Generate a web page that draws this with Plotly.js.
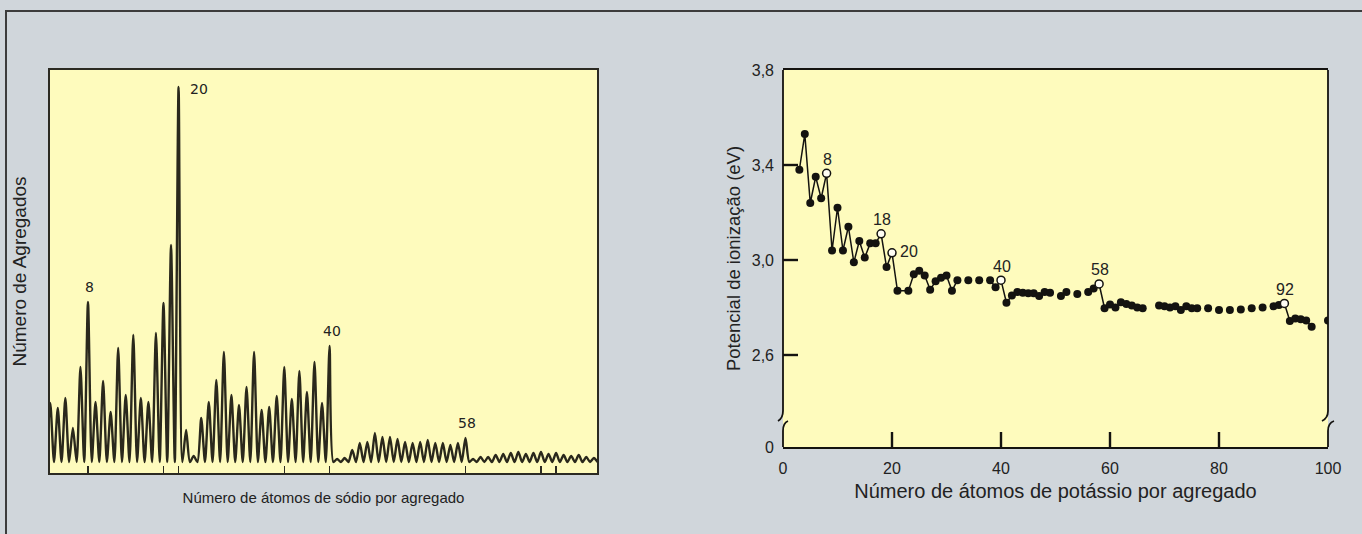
<!DOCTYPE html>
<html>
<head>
<meta charset="utf-8">
<script src="https://cdn.plot.ly/plotly-3.0.1.min.js"></script>
<style>
  html, body { margin: 0; padding: 0; background: #d0d6db; overflow: hidden; }
  #frame { position: absolute; left: 5px; top: 10px; width: 1357px; height: 524px;
           border-top: 2px solid #3c3c3c; border-left: 2px solid #3c3c3c; }
  #chart { position: absolute; left: 0; top: 0; width: 1362px; height: 534px; }
</style>
</head>
<body>
<div id="frame"></div>
<div id="chart"></div>
<script>
// Mass spectrum of sodium clusters: peak height for each cluster size
const naSizes = [3, 4, 5, 6, 7, 8, 9, 10, 11, 12, 13, 14, 15, 16, 17, 18, 19, 20, 21, 22,
                 23, 24, 25, 26, 27, 28, 29, 30, 31, 32, 33, 34, 35, 36, 37, 38, 39, 40, 41, 42,
                 43, 44, 45, 46, 47, 48, 49, 50, 51, 52, 53, 54, 55, 56, 57, 58, 59, 60, 61, 62,
                 63, 64, 65, 66, 67, 68, 69, 70, 71, 72, 73, 74, 75];
const naCounts = [59, 54, 64, 34, 95, 160, 60, 81, 50, 114, 67, 127, 64, 60, 129, 159, 217, 375, 32, 6,
                  44, 60, 82, 110, 67, 57, 75, 110, 52, 55, 66, 95, 63, 91, 70, 100, 59, 116, 3, 4,
                  12, 19, 20, 29, 25, 25, 23, 20, 19, 20, 22, 19, 19, 17, 19, 24, 3, 5, 5, 7,
                  8, 9, 10, 8, 9, 10, 8, 9, 7, 6, 7, 5, 4];
const naMagic = [8, 20, 40, 58];
const naTickSizes = [8, 18, 20, 34, 40, 58, 68, 70];

// Ionization potential of potassium clusters (eV)
const kSizes = [3, 4, 5, 6, 7, 8, 9, 10, 11, 12, 13, 14, 15, 16, 17, 18, 19, 20, 21,
                23, 24, 25, 26, 27, 28, 29, 30, 31, 32, 34, 36,
                38, 39, 40, 41, 42, 43, 44, 45, 46, 47, 48, 49, 51, 52, 54,
                56, 57, 58, 59, 60, 61, 62, 63, 64, 65, 66,
                69, 70, 71, 72, 73, 74, 75, 76, 78, 80, 82, 84, 86, 88,
                90, 91, 92, 93, 94, 95, 96, 97, 100];
const kPotential = [3.38, 3.53, 3.24, 3.35, 3.26, 3.365, 3.04, 3.22, 3.04, 3.14, 2.99, 3.08, 3.01, 3.07, 3.07, 3.11, 2.97, 3.03, 2.87,
                    2.87, 2.94, 2.955, 2.935, 2.875, 2.91, 2.925, 2.935, 2.87, 2.915, 2.915, 2.915,
                    2.915, 2.885, 2.915, 2.82, 2.85, 2.865, 2.862, 2.86, 2.86, 2.848, 2.865, 2.862, 2.848, 2.865, 2.857,
                    2.865, 2.88, 2.899, 2.797, 2.813, 2.80, 2.822, 2.815, 2.808, 2.80, 2.797,
                    2.808, 2.805, 2.80, 2.805, 2.789, 2.805, 2.797, 2.797, 2.797, 2.789, 2.789, 2.792, 2.797, 2.80,
                    2.805, 2.81, 2.817, 2.743, 2.754, 2.75, 2.745, 2.719, 2.745];
const kMagic = [8, 18, 20, 40, 58, 92];
const kTickVals = [0, 20, 40, 60, 80, 100];
const ipTickVals = [2.6, 3.0, 3.4, 3.8];
const ipTickText = ['2,6', '3,0', '3,4', '3,8'];

// ---- page geometry (pixels) ----
const W = 1362, H = 534;
const left = { x0: 50, x1: 597, y0: 70, y1: 473 };
const right = { x0: 783, x1: 1328, y0: 70, y1: 447 };
const ipTop = 3.8, ipFloor = 2.2126;       // the broken axis shows "0" at its foot
const kRange = [0, 100];
const naRange = [2.97, 75.42];
const naValleys = 0;
const tickLenPx = 15;
const breakPx = 418;                        // height of the axis break

const ink = '#141310';
const textColor = '#222222';
const paper = '#fefbbd';

// figure fractions (margins are zero, so paper == page)
const fx = px => px / W;
const fy = py => (H - py) / H;

// sodium trace: each size gives one narrow peak rising from the baseline
const spX = [], spY = [];
naSizes.forEach((n, i) => {
  spX.push(n - 0.5); spY.push(naValleys);
  spX.push(n); spY.push(naCounts[i]);
});
spX.push(naSizes[naSizes.length - 1] + 0.5); spY.push(naValleys);

// potassium: lines join neighbouring sizes; wider gaps past n=30 stay open
const lineX = [], lineY = [];
kSizes.forEach((n, i) => {
  if (i > 0) {
    const gap = n - kSizes[i - 1];
    if (gap > 1 && n > 30) { lineX.push(null); lineY.push(null); }
  }
  lineX.push(n); lineY.push(kPotential[i]);
});
const filledX = [], filledY = [], openX = [], openY = [];
kSizes.forEach((n, i) => {
  if (kMagic.includes(n)) { openX.push(n); openY.push(kPotential[i]); }
  else { filledX.push(n); filledY.push(kPotential[i]); }
});

// inward tick marks of the right-hand axes, drawn on the axes' own scales
const xPerPx = (kRange[1] - kRange[0]) / (right.x1 - right.x0);
const yPerPx = (ipTop - ipFloor) / (right.y1 - right.y0);
const tickX = [], tickY = [];
kTickVals.filter(v => v > kRange[0] && v < kRange[1]).forEach(v => {
  tickX.push(v, v, null); tickY.push(ipFloor, ipFloor + tickLenPx * yPerPx, null);
});
ipTickVals.filter(v => v < ipTop).forEach(v => {
  tickX.push(kRange[0], kRange[0] + tickLenPx * xPerPx, null); tickY.push(v, v, null);
});

const traces = [
  { x: spX, y: spY, xaxis: 'x', yaxis: 'y', mode: 'lines', type: 'scatter',
    line: { color: '#2a281c', width: 2.4, shape: 'spline', smoothing: 0.7 }, hoverinfo: 'skip' },
  { x: tickX, y: tickY, xaxis: 'x2', yaxis: 'y2', mode: 'lines', type: 'scatter',
    line: { color: ink, width: 2.4 }, connectgaps: false, hoverinfo: 'skip' },
  { x: lineX, y: lineY, xaxis: 'x2', yaxis: 'y2', mode: 'lines', type: 'scatter',
    line: { color: ink, width: 1.5 }, connectgaps: false, hoverinfo: 'skip' },
  { x: filledX, y: filledY, xaxis: 'x2', yaxis: 'y2', mode: 'markers', type: 'scatter',
    marker: { color: ink, size: 8, line: { width: 0 } } },
  { x: openX, y: openY, xaxis: 'x2', yaxis: 'y2', mode: 'markers', type: 'scatter',
    marker: { color: '#fffef4', size: 8, line: { color: ink, width: 1.5 } } }
];

const P = (px, py) => `${fx(px)},${fy(py)}`;

// vertical axis with a break: straight run, curl out, gap, curl back in
function brokenAxis(axPx, curl) {
  const up = `M ${P(axPx, right.y0)} L ${P(axPx, breakPx - 7)} ` +
             `Q ${P(axPx, breakPx)} ${P(axPx - curl, breakPx + 3)}`;
  const low = `M ${P(axPx + curl, breakPx + 3)} Q ${P(axPx, breakPx + 5)} ${P(axPx, breakPx + 13)} ` +
              `L ${P(axPx, right.y1)}`;
  return [up, low].map(p => ({ type: 'path', xref: 'paper', yref: 'paper', path: p,
                                line: { color: ink, width: 1.8 }, layer: 'above' }));
}

const shapes = [
  { type: 'rect', xref: 'paper', yref: 'paper', x0: fx(left.x0), x1: fx(left.x1),
    y0: fy(left.y1), y1: fy(left.y0), fillcolor: paper, line: { width: 0 }, layer: 'below' },
  { type: 'rect', xref: 'paper', yref: 'paper', x0: fx(right.x0), x1: fx(right.x1),
    y0: fy(right.y1), y1: fy(right.y0), fillcolor: paper, line: { width: 0 }, layer: 'below' },
  ...brokenAxis(right.x0, 5),
  ...brokenAxis(right.x1, 6)
];

const annotations = [];
naMagic.forEach(n => {
  const v = naCounts[naSizes.indexOf(n)];
  const side = n === 20;
  annotations.push({ xref: 'x', yref: 'y', x: n, y: v, text: String(n), showarrow: false,
    xanchor: 'center', yanchor: side ? 'middle' : 'bottom',
    xshift: side ? 20 : 2, yshift: side ? -2 : 5,
    font: { family: 'DejaVu Sans', size: 14, color: textColor } });
});
kMagic.forEach(n => {
  const v = kPotential[kSizes.indexOf(n)];
  const side = n === 20;
  annotations.push({ xref: 'x2', yref: 'y2', x: n, y: v, text: String(n), showarrow: false,
    xanchor: 'center', yanchor: 'middle',
    xshift: side ? 17 : 1, yshift: side ? 1 : 14,
    font: { family: 'Liberation Sans', size: 16, color: textColor } });
});

const layout = {
  width: W, height: H,
  margin: { l: 0, r: 0, t: 0, b: 0 },
  paper_bgcolor: 'rgba(0,0,0,0)',
  plot_bgcolor: 'rgba(0,0,0,0)',
  showlegend: false,
  font: { family: 'Liberation Sans', color: textColor },
  xaxis: {
    domain: [fx(left.x0), fx(left.x1)], range: naRange, anchor: 'y',
    showline: true, mirror: true, linecolor: '#2b2a22', linewidth: 1.6,
    ticks: 'inside', tickvals: naTickSizes, ticklen: 7, tickwidth: 1.4, tickcolor: '#2b2a22',
    showticklabels: false, showgrid: false, zeroline: false, fixedrange: true,
    title: { text: 'Número de átomos de sódio por agregado', standoff: 19,
             font: { family: 'Liberation Sans', size: 15, color: textColor } }
  },
  yaxis: {
    domain: [fy(left.y1), fy(left.y0)], range: [-11, 392], anchor: 'x',
    showline: true, mirror: true, linecolor: '#2b2a22', linewidth: 1.6,
    ticks: '', showticklabels: false, showgrid: false, zeroline: false, fixedrange: true,
    title: { text: 'Número de Agregados', standoff: 17,
             font: { family: 'Liberation Sans', size: 19, color: textColor } }
  },
  xaxis2: {
    domain: [fx(right.x0), fx(right.x1)], range: kRange, anchor: 'y2',
    showline: true, mirror: true, linecolor: ink, linewidth: 1.8,
    ticks: 'inside', ticklen: tickLenPx, tickwidth: 2.2, tickcolor: ink,
    tickvals: kTickVals, ticklabelstandoff: 6,
    tickfont: { family: 'Liberation Sans', size: 16, color: textColor },
    showgrid: false, zeroline: false, fixedrange: true,
    title: { text: 'Número de átomos de potássio por agregado', standoff: 8,
             font: { family: 'Liberation Sans', size: 20, color: textColor } }
  },
  yaxis2: {
    domain: [fy(right.y1), fy(right.y0)], range: [ipFloor, ipTop], anchor: 'x2',
    showline: false,
    ticks: 'inside', ticklen: tickLenPx, tickwidth: 2.2, tickcolor: ink,
    tickvals: [ipFloor, ...ipTickVals], ticktext: ['0', ...ipTickText], ticklabelstandoff: 8,
    tickfont: { family: 'Liberation Sans', size: 16, color: textColor },
    showgrid: false, zeroline: false, fixedrange: true,
    title: { text: 'Potencial de ionização (eV)', standoff: 6,
             font: { family: 'Liberation Sans', size: 18.5, color: textColor } }
  },
  shapes: shapes,
  annotations: annotations
};

Plotly.newPlot('chart', traces, layout, { staticPlot: true, displayModeBar: false });
</script>
</body>
</html>
